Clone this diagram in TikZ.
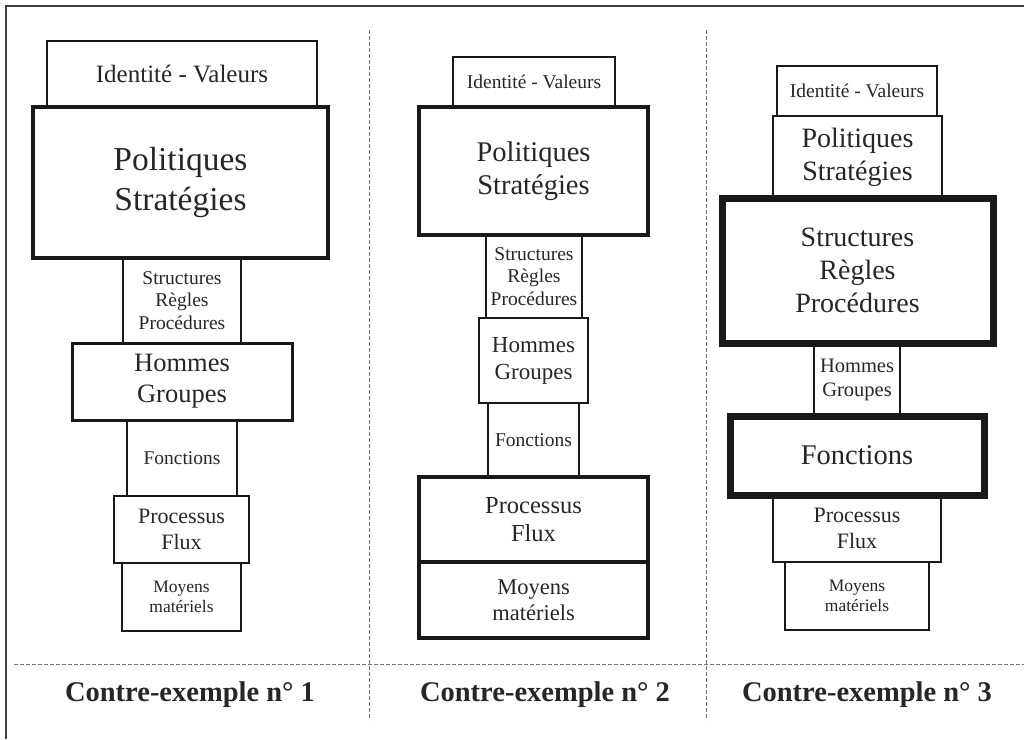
\documentclass[tikz,border=0pt]{standalone}
\usepackage{fontspec}
\setmainfont{Liberation Serif}
\newcommand\fsz[1]{\fontsize{#1}{\the\dimexpr #1pt*117/100\relax}\selectfont}
\tikzset{
  x=1pt, y=-1pt,
  box/.style={draw=black!90, inner sep=0pt, align=center, text=black!85},
  sep/.style={draw=black!55, line width=0.9pt, dash pattern=on 3.5pt off 2.5pt},
  frame/.style={draw=black!75, line width=1.6pt},
  caption/.style={font=\fsz{28.5}\bfseries, text=black!85, inner sep=0pt}
}
% \bx{name}{x1}{y1}{x2}{y2}{line width}{font size}{text}
\newcommand\bx[8]{%
  \node[box, line width=#6pt, minimum width={(#4-#2)*1pt}, minimum height={(#5-#3)*1pt},
        font=\fsz{#7}] (#1) at ({(#2+#4)/2},{(#3+#5)/2}) {#8};}
\begin{document}
\begin{tikzpicture}
\useasboundingbox (0,0) rectangle (1024,739);

% open frame: top and left rules
\draw[frame] (6,739) -- (6,6) -- (1024,6);

% separators between the three columns and above the captions
\draw[sep] (14,664) -- (1024,664);
\draw[sep] (369,30) -- (369,720);
\draw[sep] (706,30) -- (706,720);

% ---- column 1 ----
\bx{idA}{47}{41}{317}{106}{1.3}{25}{Identité - Valeurs}
\bx{strA}{123}{258}{241}{343}{1.3}{19.5}{Structures\\Règles\\Procédures}
\bx{fonA}{127}{420}{237}{496}{1.3}{19.5}{Fonctions}
\bx{moyA}{122}{563}{241}{631}{1.3}{17.5}{Moyens\\matériels}
\bx{proA}{114}{496}{249}{563}{2}{22}{Processus\\Flux}
\bx{homA}{72}{343}{292}{420}{3}{26.5}{Hommes\\Groupes}
\bx{polA}{33}{107}{328}{258}{4}{33.5}{Politiques\\Stratégies}

% ---- column 2 ----
\bx{idB}{453}{57}{615}{107}{1.3}{19.5}{Identité - Valeurs}
\bx{strB}{486}{235}{582}{318}{1.3}{19.5}{Structures\\Règles\\Procédures}
\bx{homB}{479}{318}{588}{403}{1.3}{23}{Hommes\\Groupes}
\bx{fonB}{488}{403}{579}{477}{1.3}{19.5}{Fonctions}
\bx{polB}{419}{107}{648}{235}{4}{28.5}{Politiques\\Stratégies}
\bx{proB}{419}{477}{648}{562}{4}{24.5}{Processus\\Flux}
\bx{moyB}{419}{562}{648}{638}{4}{22.5}{Moyens\\matériels}

% ---- column 3 ----
\bx{idC}{777}{66}{937}{116}{1.3}{19.5}{Identité - Valeurs}
\bx{polC}{773}{116}{942}{198}{1.5}{28}{Politiques\\Stratégies}
\bx{homC}{814}{343}{900}{416}{1.3}{20.5}{Hommes\\Groupes}
\bx{proC}{773}{495}{941}{562}{1.5}{22}{Processus\\Flux}
\bx{moyC}{785}{562}{929}{630}{1.3}{17.5}{Moyens\\matériels}
\bx{strC}{722}{198}{993}{343}{7}{28}{Structures\\Règles\\Procédures}
\bx{fonC}{730}{416}{984}{495}{7}{28.5}{Fonctions}

% ---- captions ----
\node[caption] (capA) at (190,695) {Contre-exemple n° 1};
\node[caption] (capB) at (545,695) {Contre-exemple n° 2};
\node[caption] (capC) at (867,695) {Contre-exemple n° 3};
\end{tikzpicture}
\end{document}
